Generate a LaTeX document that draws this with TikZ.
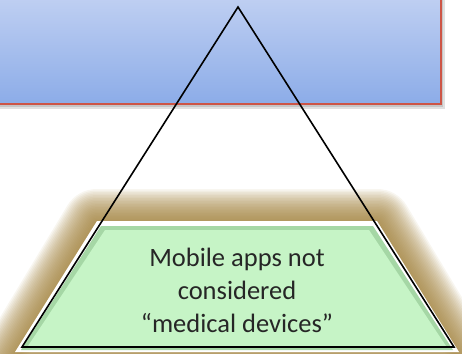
\documentclass[tikz,border=0pt]{standalone}
\usepackage{fontspec}
\setmainfont{Carlito}
\usetikzlibrary{positioning}

\definecolor{topblue}{RGB}{192,208,242}
\definecolor{lowblue}{RGB}{140,172,232}
\definecolor{boxred}{RGB}{205,85,70}
\definecolor{glowbrown}{RGB}{160,128,58}
\definecolor{paleGreen}{RGB}{198,244,198}
\definecolor{edgeGreen}{RGB}{165,215,165}

\tikzset{every picture/.style={line width=0.75pt}}
\tikzset{
  pyramidline/.style={draw=black, line width=1.6pt, line join=miter},
  glowlayer/.style={draw=glowbrown, line join=round, draw opacity=0.075},
  labeltext/.style={align=center, font=\fontsize{26.5}{33}\selectfont, text=black!85}
}

\begin{document}
\begin{tikzpicture}[x=1pt,y=1pt,yscale=-1]
\useasboundingbox (0,0) rectangle (462,353);

% Blue box with shadow
\fill[black, opacity=0.12] (-5,-5) rectangle (445,109);
\fill[black, opacity=0.12] (-5,-5) rectangle (443,107);
\shade[top color=topblue, bottom color=lowblue] (-5,-5) rectangle (441,104);
\draw[boxred, line width=1.5pt] (-5,104) -- (441,104) -- (441,-5);

% Glow round the trapezoid
\foreach \w in {70,67,...,4}
  \draw[glowlayer, line width=\w pt] (97,224) -- (377,224) -- (460,362) -- (14,362) -- cycle;

% Trapezoid
\fill[white] (97,221) -- (377,221) -- (459,352) -- (15,352) -- cycle;
\fill[edgeGreen] (101,226) -- (373,226) -- (453,350) -- (21,350) -- cycle;
\fill[paleGreen] (105,230) -- (369,230) -- (446,346) -- (28,346) -- cycle;

% Pyramid
\coordinate (apex) at (238,7);
\coordinate (baseL) at (22,347);
\coordinate (baseR) at (454,347);
\draw[pyramidline] (apex) -- (baseL) -- (baseR) -- cycle;

% Text Node
\node[labeltext] (apps) at (237,290) {Mobile apps not\\considered\\“medical devices”};

\end{tikzpicture}
\end{document}
